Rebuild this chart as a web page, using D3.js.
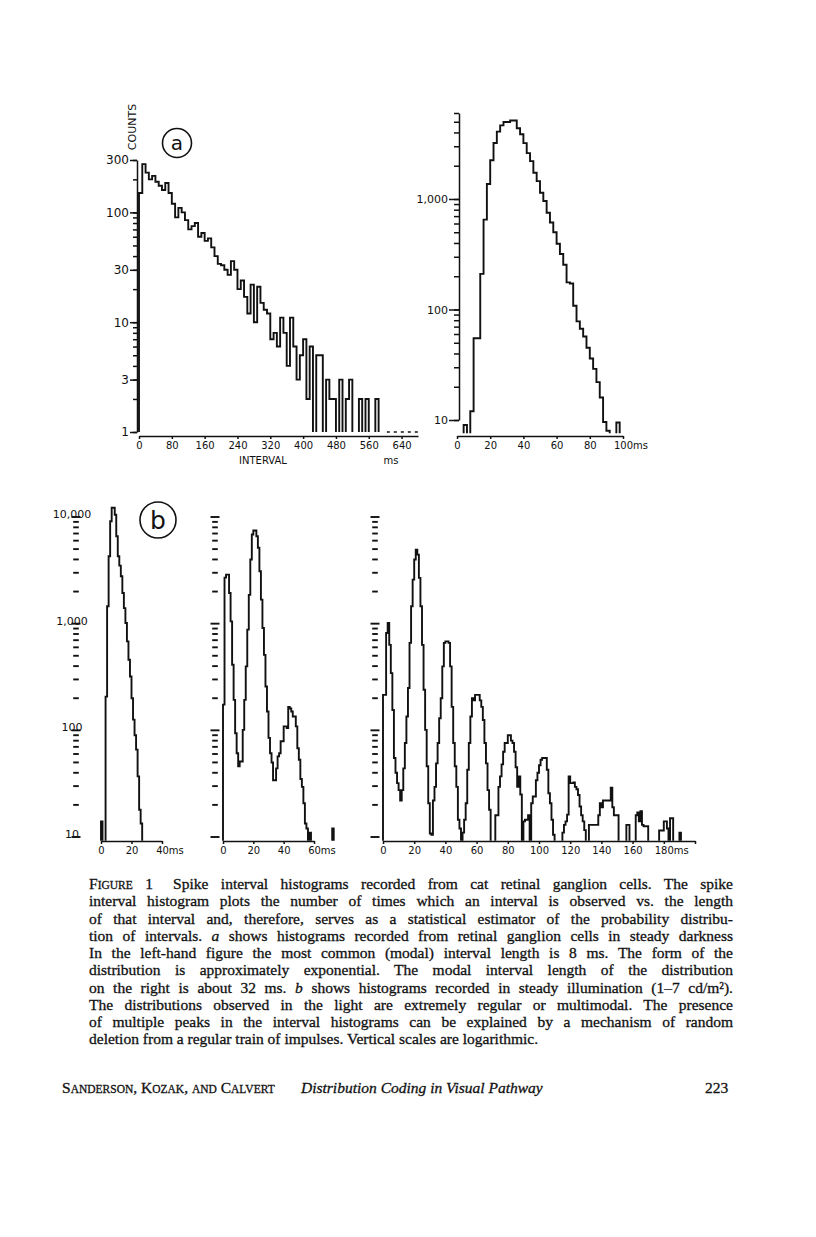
<!DOCTYPE html>
<html>
<head>
<meta charset="utf-8">
<script src="https://cdn.jsdelivr.net/npm/d3@7"></script>
<style>
	body { margin: 0; background: #fff; }
	svg text { fill: #111; }
	.tick text, .lbl { font-family: "DejaVu Sans", sans-serif; font-size: 10px; }
	.axis path, .axis line { stroke: #111; stroke-width: 1.5px; }
	.caption { font-family: "Liberation Serif", serif; font-size: 15.5px; white-space: pre; stroke: #111; stroke-width: 0.3px; }
</style>
</head>
<body>
<div id="figure"></div>
<script>
// ==================================================
// DATA
// ==================================================

// Panel a, left: counts per 8 ms bin (darkness)
var aLeftBin = 8;
var aLeftCounts = [150, 275, 230, 200, 215, 190, 175, 160, 185, 150,
                   120, 90, 110, 100, 85, 70, 75, 80, 60, 65,
                   55, 58, 48, 40, 34, 33, 30, 27, 36, 30,
                   20, 24, 17, 12, 22, 10, 21, 15, 13, 12,
                   7, 8, 6, 11, 8, 4, 11, 6, 3, 5,
                   7, 2, 6, 1, 5, 5, 1, 3, 2, 2,
                   1, 3, 1, 2, 3, 1, 1, 2, 1, 2,
                   1, 1, 2, 1];
var aLeftTail    = [604, 680];   // dotted run of single counts
var aLeftXTicks  = [0, 80, 160, 240, 320, 400, 480, 560, 640];
var aLeftYLabels = [1, 3, 10, 30, 100, 300];

// Panel a, right: counts per 2 ms bin
var aRightBin = 2;
var aRightCounts = [0, 0, 9, 0, 12, 55, 55, 210, 650, 1365,
                    2240, 3210, 4070, 4640, 4970, 4970, 5130, 5130, 4370, 3850,
                    3200, 2600, 2200, 1725, 1450, 1140, 960, 750, 612, 500,
                    394, 318, 254, 176, 172, 108, 78, 67, 57, 45,
                    36, 29, 22, 16, 9.6, 8, 0, 0, 9.5, 0];
var aRightXTicks  = [0, 20, 40, 60, 80, 100];
var aRightYLabels = [10, 100, 1000];

// Panel b: counts per 1 ms bin (steady illumination)
var bBin = 1;
var b1Counts = [14, 0, 0, 207, 1455, 4290, 9120, 12200, 12200, 10500,
                6600, 4290, 3500, 2780, 1940, 1400, 1016, 683, 459, 320,
                200, 126, 90, 66, 37, 18, 13.4];
var b2Counts = [174, 2700, 2880, 2880, 1940, 1050, 412, 193, 94, 61,
                46, 51, 51, 101, 193, 398, 880, 1860, 3990, 6850,
                7470, 7470, 6600, 5150, 3100, 1680, 910, 510, 258, 150,
                85, 61, 50, 34, 34, 44, 57, 61, 79, 79,
                109, 109, 105, 166, 160, 150, 135, 135, 109, 68,
                53, 35, 29.5, 20.7, 13.4, 12, 0, 11, 0, 0,
                0, 0, 0, 0, 0, 0, 0, 0, 0, 0,
                0, 0, 12];
var b3Counts = [215, 215, 818, 1016, 632, 344, 155, 55, 40, 32,
                27.5, 22, 27.5, 44, 76, 135, 249, 660, 1455, 2590,
                3990, 4950, 4440, 2690, 1455, 632, 240, 101, 46, 20.7,
                10.8, 10.5, 22, 29.5, 49, 76, 130, 200, 398, 660,
                683, 683, 660, 398, 166, 76, 46, 29.5, 14.5, 12,
                0, 11, 14.5, 20.7, 42.7, 76, 135, 200, 191, 215,
                215, 215, 191, 166, 125, 76, 49, 27.5, 18, 0,
                0, 0, 16, 16, 29.5, 37, 48, 63, 76, 76,
                90, 90, 80, 76, 63, 45, 29.5, 37, 25, 0,
                14, 14.5, 14.5, 16, 0, 20.7, 24, 24, 34, 40,
                47, 53, 55, 55, 55, 42.7, 25.7, 20.7, 14.5, 10.5,
                0, 0, 0, 0, 0, 11, 13, 14, 16.2, 37,
                32, 32, 32.5, 29.5, 28, 24.8, 19.3, 16, 14, 11.6,
                0, 0, 13, 13, 13, 13, 13, 13, 16, 20.7,
                19, 22, 22, 22, 22, 22, 29, 19, 16, 16,
                16, 0, 0, 0, 0, 0, 13, 13, 0, 0,
                0, 0, 16, 17, 14, 17.5, 13, 12.6, 12.6, 12.6,
                0, 0, 0, 0, 0, 0, 0, 11.5, 11.5, 11.5,
                14, 14, 12, 0, 15, 15, 0, 0, 0, 0,
                11];
var b1XTicks = [0, 20, 40];
var b2XTicks = [0, 20, 40, 60];
var b3XTicks = [0, 20, 40, 60, 80, 100, 120, 140, 160, 180, 200];
var bYLabels = [10, 100, 1000, 10000];

// Caption, one entry per printed line: [text, style]
var captionLines = [
	[["Figure 1", "sc"], [" \u2002Spike interval histograms recorded from cat retinal ganglion cells. The spike", ""]],
	[["interval histogram plots the number of times which an interval is observed vs. the length", ""]],
	[["of that interval and, therefore, serves as a statistical estimator of the probability distribu-", ""]],
	[["tion of intervals. ", ""], ["a", "i"], [" shows histograms recorded from retinal ganglion cells in steady darkness", ""]],
	[["In the left-hand figure the most common (modal) interval length is 8 ms. The form of the", ""]],
	[["distribution is approximately exponential. The modal interval length of the distribution", ""]],
	[["on the right is about 32 ms. ", ""], ["b", "i"], [" shows histograms recorded in steady illumination (1\u20137 cd/m\u00b2).", ""]],
	[["The distributions observed in the light are extremely regular or multimodal. The presence", ""]],
	[["of multiple peaks in the interval histograms can be explained by a mechanism of random", ""]],
	[["deletion from a regular train of impulses. Vertical scales are logarithmic.", ""]]
];


// ==================================================
// CANVAS
// ==================================================

var ink = "#111";

var svg = d3.select("#figure")
	.append("svg")
		.attr("width", 816)
		.attr("height", 1237);


// ==================================================
// FUNCTIONS
// ==================================================

// Step outline for each run of non-empty bins
function drawHist(counts, bin, x, y, floor) {
	var d = "";
	var open = false;

	counts.forEach(function(c, i) {
		if (c > floor) {
			if (!open) {
				d += "M" + x(i * bin) + "," + y(floor);
				open = true;
			}
			d += "V" + y(c) + "H" + x((i + 1) * bin);
		} else if (open) {
			d += "V" + y(floor);
			open = false;
		}
	});
	if (open) d += "V" + y(floor);

	svg.append("path")
		.attr("d", d)
		.attr("fill", "none")
		.attr("stroke", ink)
		.attr("stroke-width", 1.9);
}


// Bottom axis, last labelled tick carries the unit
function drawXAxis(x, yPos, ticks, lastLabel, unit) {
	var ax = svg.append("g")
		.attr("class", "x axis")
		.attr("transform", "translate(0," + yPos + ")")
		.call(d3.axisBottom(x)
			.tickValues(ticks)
			.tickSize(3)
			.tickSizeOuter(0)
			.tickPadding(3)
			.tickFormat(function(d) { return d <= lastLabel ? d : ""; }));

	if (unit) {
		ax.selectAll(".tick text")
			.filter(function(d) { return d === lastLabel; })
			.each(function(d) {
				var w = this.getComputedTextLength();
				d3.select(this)
					.attr("text-anchor", "start")
					.attr("x", -w / 2)
					.text(d + "ms");
			});
	}
}


// Left log axis: minor ticks with the spine, then labelled decades
function drawYAxis(y, xPos, labels, majorLen, minorLen, fontSize) {
	svg.append("g")
		.attr("class", "y axis")
		.attr("transform", "translate(" + xPos + ",0)")
		.call(d3.axisLeft(y)
			.tickValues(y.ticks())
			.tickSize(minorLen)
			.tickSizeOuter(0)
			.tickFormat(""));

	svg.append("g")
		.attr("class", "y axis")
		.attr("transform", "translate(" + xPos + ",0)")
		.call(d3.axisLeft(y)
			.tickValues(labels)
			.tickSize(majorLen)
			.tickSizeOuter(0)
			.tickPadding(1)
			.tickFormat(d3.format(",")))
		.call(function(g) { g.select(".domain").remove(); })
		.selectAll(".tick text")
			.style("font-size", fontSize + "px");
}


// Free-standing column of log ticks (panel b)
function drawTickColumn(y, xPos, labels) {
	svg.append("g")
		.selectAll("line")
		.data(y.ticks())
		.enter()
			.append("line")
				.attr("x1", function(d) { return xPos - (labels.indexOf(d) >= 0 ? 4.5 : 2.8); })
				.attr("x2", function(d) { return xPos + (labels.indexOf(d) >= 0 ? 4.5 : 2.8); })
				.attr("y1", function(d) { return y(d); })
				.attr("y2", function(d) { return y(d); })
				.attr("stroke", ink)
				.attr("stroke-width", 1.9);
}


// Small caps: lower-case runs are set as smaller capitals
function appendSmallCaps(text, str, big, small) {
	str.match(/[a-z]+|[^a-z]+/g).forEach(function(p) {
		var lower = /[a-z]/.test(p[0]);
		text.append("tspan")
			.attr("font-size", lower ? small : big)
			.text(lower ? p.toUpperCase() : p);
	});
}


// Circled panel letter
function drawBadge(cx, cy, r, letter, size) {
	svg.append("circle")
		.attr("cx", cx)
		.attr("cy", cy)
		.attr("r", r)
		.attr("fill", "none")
		.attr("stroke", ink)
		.attr("stroke-width", 1.6);

	svg.append("text")
		.attr("x", cx)
		.attr("y", cy + size * 0.36)
		.attr("text-anchor", "middle")
		.attr("font-family", "DejaVu Sans")
		.attr("font-size", size)
		.text(letter);
}


// ==================================================
// PANEL a, LEFT
// ==================================================

var xAL = d3.scaleLinear().domain([0, 680]).range([139, 418]);
var yAL = d3.scaleLog().domain([1, 300]).range([432, 160]);

drawYAxis(yAL, 137, aLeftYLabels, 7, 4, 12);
drawXAxis(xAL, 436, aLeftXTicks, 640, false);
drawHist(aLeftCounts, aLeftBin, xAL, yAL, 1);

svg.append("line")
	.attr("x1", xAL(aLeftTail[0]))
	.attr("x2", xAL(aLeftTail[1]))
	.attr("y1", yAL(1))
	.attr("y2", yAL(1))
	.attr("stroke", ink)
	.attr("stroke-width", 1.5)
	.attr("stroke-dasharray", "3,4");

svg.append("text")
	.attr("class", "lbl")
	.attr("x", 263)
	.attr("y", 464)
	.attr("text-anchor", "middle")
	.text("INTERVAL");

svg.append("text")
	.attr("class", "lbl")
	.attr("x", 391)
	.attr("y", 464)
	.attr("text-anchor", "middle")
	.text("ms");

svg.append("text")
	.attr("class", "lbl")
	.attr("transform", "rotate(-90)")
	.attr("x", -127)
	.attr("y", 136)
	.attr("text-anchor", "middle")
	.style("font-size", "11px")
	.text("COUNTS");

drawBadge(177, 143, 14.5, "a", 20);


// ==================================================
// PANEL a, RIGHT
// ==================================================

var xAR = d3.scaleLinear().domain([0, 100]).range([457, 623]);
var yAR = d3.scaleLog().domain([10, 6000]).range([420, 113]);

drawYAxis(yAR, 459, aRightYLabels, 10, 5, 11);
drawXAxis(xAR, 436, aRightXTicks, 100, true);
drawHist(aRightCounts, aRightBin, xAR, yAR, 7.6);


// ==================================================
// PANEL b
// ==================================================

var yB  = d3.scaleLog().domain([10, 10000]).range([837, 517]);
var xB1 = d3.scaleLinear().domain([0, 40]).range([101, 162]);
var xB2 = d3.scaleLinear().domain([0, 60]).range([223, 314]);
var xB3 = d3.scaleLinear().domain([0, 200]).range([383, 695]);

drawTickColumn(yB, 76, bYLabels);
drawTickColumn(yB, 215, bYLabels);
drawTickColumn(yB, 375, bYLabels);

svg.append("g")
	.selectAll("text")
	.data(bYLabels)
	.enter()
		.append("text")
			.attr("class", "lbl")
			.attr("x", 72)
			.attr("y", function(d) { return yB(d) + 1; })
			.attr("text-anchor", "middle")
			.style("font-size", "11px")
			.text(d3.format(","));

drawXAxis(xB1, 841, b1XTicks, 40, true);
drawXAxis(xB2, 841, b2XTicks, 60, true);
drawXAxis(xB3, 841, b3XTicks, 180, true);

drawHist(b1Counts, bBin, xB1, yB, 9.2);
drawHist(b2Counts, bBin, xB2, yB, 9.2);
drawHist(b3Counts, bBin, xB3, yB, 9.2);

drawBadge(158, 520, 18, "b", 25);


// ==================================================
// CAPTION & FOOTER
// ==================================================

var capLeft  = 89;
var capWidth = 644;

captionLines.forEach(function(line, i) {
	var t = svg.append("text")
		.attr("class", "caption")
		.attr("x", capLeft)
		.attr("y", 889 + i * 17.25);

	line.forEach(function(seg) {
		if (seg[1] === "sc") {
			appendSmallCaps(t, seg[0], 15.5, 11.5);
		} else {
			t.append("tspan")
				.attr("font-style", seg[1] === "i" ? "italic" : null)
				.text(seg[0]);
		}
	});

	// Justify all but the last line by widening word spaces
	if (i < captionLines.length - 1) {
		var full   = line.map(function(s) { return s[0]; }).join("");
		var spaces = (full.match(/ /g) || []).length;
		var w      = t.node().getComputedTextLength();
		t.style("word-spacing", ((capWidth - w) / spaces) + "px");
	}
});

var footer = svg.append("text")
	.attr("class", "caption")
	.attr("x", 62)
	.attr("y", 1093);
appendSmallCaps(footer, "Sanderson, Kozak, and Calvert", 15.5, 11.5);

svg.append("text")
	.attr("class", "caption")
	.attr("x", 301)
	.attr("y", 1093)
	.attr("font-style", "italic")
	.text("Distribution Coding in Visual Pathway");

svg.append("text")
	.attr("class", "caption")
	.attr("x", 705)
	.attr("y", 1093)
	.text("223");
</script>
</body>
</html>
